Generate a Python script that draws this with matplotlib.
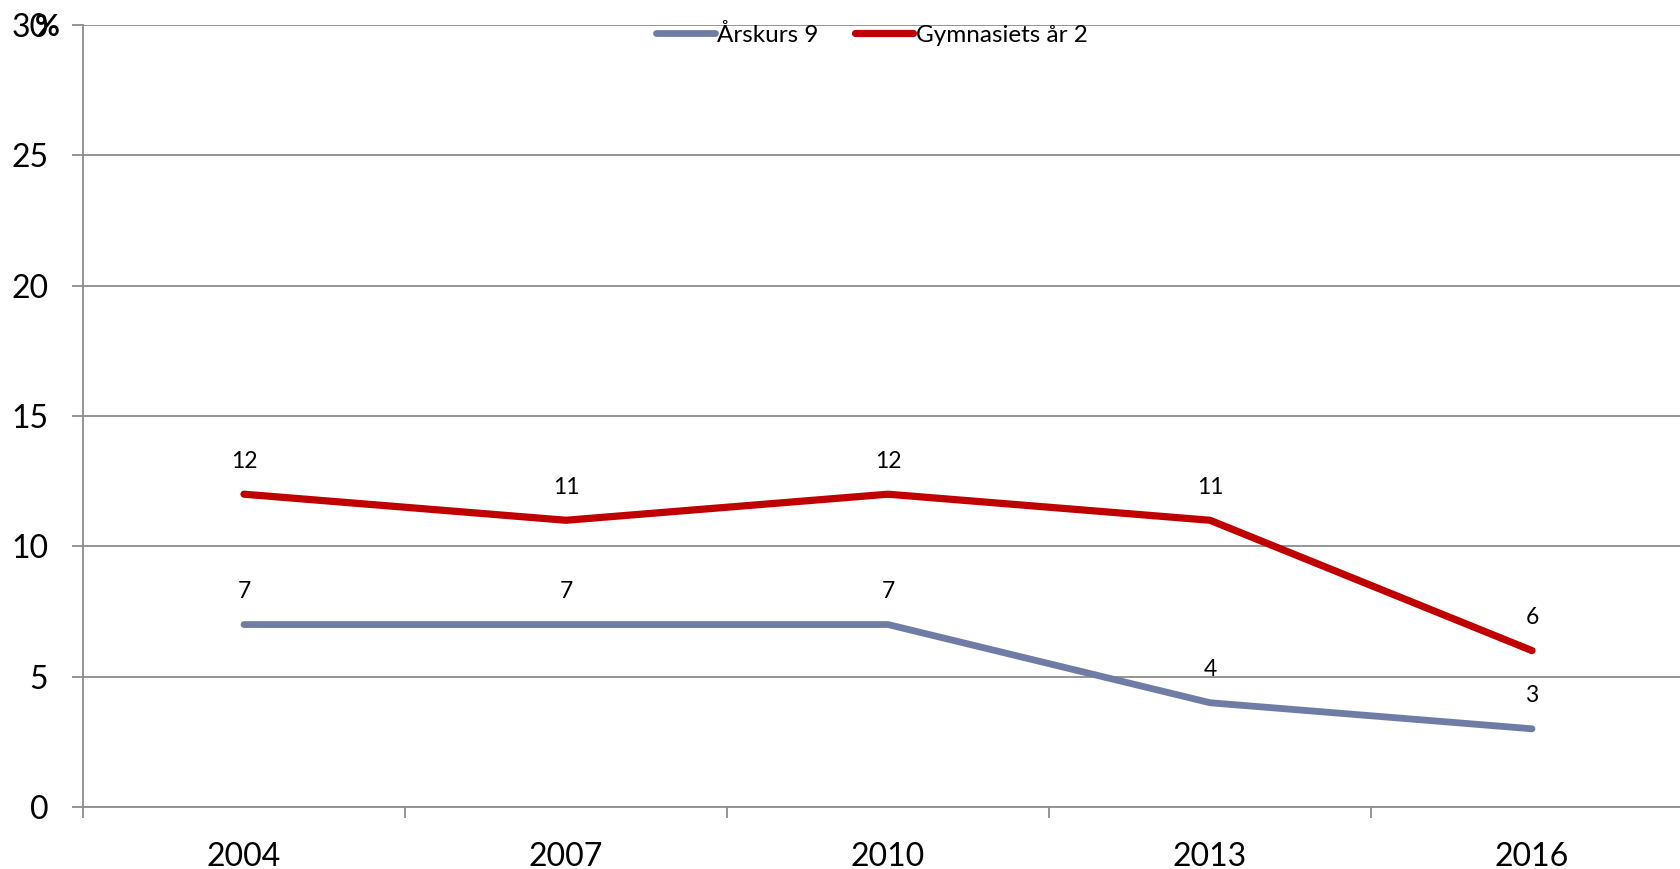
import matplotlib
matplotlib.use("Agg")
import matplotlib.pyplot as plt
from matplotlib.ticker import FixedLocator

years = ["2004", "2007", "2010", "2013", "2016"]
arskurs9 = [7, 7, 7, 4, 3]
gymnasiet2 = [12, 11, 12, 11, 6]
series_names = ["Årskurs 9", "Gymnasiets år 2"]
yticks = [0, 5, 10, 15, 20, 25, 30]

plt.rcParams['font.family'] = ['Lato', 'DejaVu Sans']

fig = plt.figure(figsize=(16.8, 8.69), dpi=100)
ax = fig.add_axes([83/1680, 62/869, 1610/1680, 782/869])

x = list(range(len(years)))
blue = "#6F7DA6"
red = "#C00000"
l1, = ax.plot(x, arskurs9, color=blue, lw=4.9, solid_capstyle='round', zorder=3)
l2, = ax.plot(x, gymnasiet2, color=red, lw=5.2, solid_capstyle='round', zorder=3)

for xi, v in zip(x, arskurs9):
    ax.annotate(str(v), (xi, v), xytext=(0, 19), textcoords='offset points',
                ha='center', va='baseline', fontsize=16.5, color='black')
for xi, v in zip(x, gymnasiet2):
    ax.annotate(str(v), (xi, v), xytext=(0, 19), textcoords='offset points',
                ha='center', va='baseline', fontsize=16.5, color='black')

ax.set_xlim(-0.5, len(years) - 0.5)
ax.set_ylim(0, 30)
ax.set_yticks(yticks)
ax.set_yticklabels([str(t) for t in yticks])
ax.set_xticks(x)
ax.set_xticklabels(years)
ax.xaxis.set_minor_locator(FixedLocator([i - 0.5 for i in range(len(years) + 1)]))

grid_c = "#8C8C8C"
ax.grid(axis='y', color=grid_c, lw=1.3, zorder=1)
ax.set_axisbelow(True)
for s in ['top', 'right']:
    ax.spines[s].set_visible(False)
for s in ['left', 'bottom']:
    ax.spines[s].set_color(grid_c)
    ax.spines[s].set_linewidth(1.3)

ax.tick_params(axis='y', length=8, width=1.3, color=grid_c, pad=17, labelsize=23)
ax.tick_params(axis='x', which='major', length=0, pad=25, labelsize=23)
ax.tick_params(axis='x', which='minor', length=8, width=1.3, color=grid_c)

fig.text(47/1680, 1 - 27/869, "%", ha='center', va='center', fontsize=22, fontweight='bold')

fig.legend([l1, l2], series_names, loc='center', bbox_to_anchor=(872/1680, 1 - 35/869),
           ncol=2, frameon=False, fontsize=17.5, handlelength=2.4, handletextpad=0.1,
           columnspacing=1.5)

fig.savefig("out.png", dpi=100)
